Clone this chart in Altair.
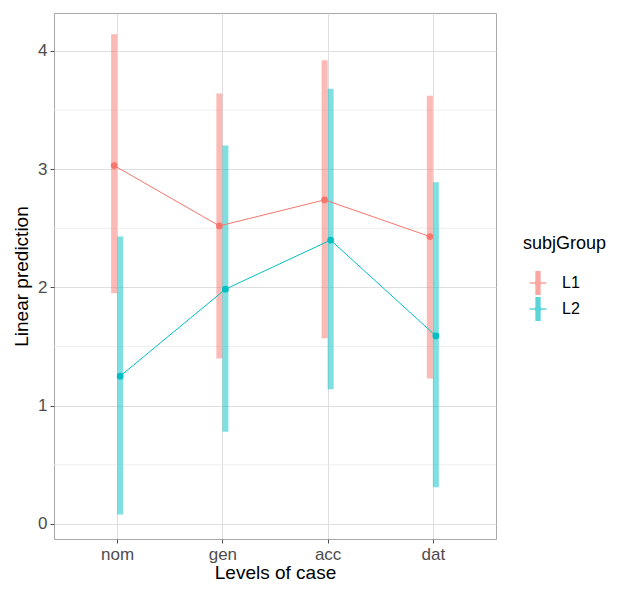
import altair as alt
import pandas as pd

cases = ["nom", "gen", "acc", "dat"]
groups = ["L1", "L2"]
pred_L1 = [3.03, 2.52, 2.74, 2.43]
lo_L1 = [1.95, 1.40, 1.57, 1.23]
hi_L1 = [4.14, 3.64, 3.92, 3.62]
pred_L2 = [1.25, 1.985, 2.40, 1.59]
lo_L2 = [0.08, 0.78, 1.14, 0.31]
hi_L2 = [2.43, 3.20, 3.68, 2.89]
y_breaks = [0, 1, 2, 3, 4]
minor_breaks = [0.5, 1.5, 2.5, 3.5]
colors = ["#F8766D", "#00BFC4"]

rows = []
for g, p, lo, hi in [("L1", pred_L1, lo_L1, hi_L1), ("L2", pred_L2, lo_L2, hi_L2)]:
    for c, pv, l, h in zip(cases, p, lo, hi):
        rows.append({"case": c, "subjGroup": g, "pred": pv, "lo": l, "hi": h})
df = pd.DataFrame(rows)
minor_df = pd.DataFrame({"y": minor_breaks})

FONT = "Liberation Sans"
W, H = 442, 526

xenc = alt.X("case:N", sort=cases, scale=alt.Scale(type="point", padding=0.6),
             axis=alt.Axis(title="Levels of case", labelAngle=0, grid=True))
yscale = alt.Scale(domain=[-0.127, 4.32], nice=False, zero=False)
color = alt.Color("subjGroup:N", scale=alt.Scale(domain=groups, range=colors),
                  legend=alt.Legend(title="subjGroup"))

minor = alt.Chart(minor_df).mark_rule(color="#ebebeb", strokeWidth=0.8).encode(
    y=alt.Y("y:Q", scale=yscale))

offsets = {"L1": -3, "L2": 3}
rules, lines, points = [], [], []
for g in groups:
    base = alt.Chart(df).transform_filter(alt.datum.subjGroup == g)
    o = offsets[g]
    rules.append(base.mark_rule(strokeWidth=6, opacity=0.5, xOffset=o).encode(
        x=xenc, y=alt.Y("lo:Q", scale=yscale), y2="hi:Q", color=color))
    lines.append(base.mark_line(strokeWidth=1, xOffset=o).encode(
        x=xenc, y=alt.Y("pred:Q", scale=yscale), color=color))
    points.append(base.mark_circle(size=45, opacity=1, xOffset=o).encode(
        x=xenc, y=alt.Y("pred:Q", scale=yscale,
                        axis=alt.Axis(title="Linear prediction", values=y_breaks,
                                      format="d")),
        color=color))

legend_path = ("M-0.22,-1H0.22V1H-0.22Z M-0.7,-0.06H0.7V0.06H-0.7Z "
               "M0.28,0A0.28,0.28 0 1,1 -0.28,0A0.28,0.28 0 1,1 0.28,0Z")

chart = alt.layer(minor, *rules, *lines, *points).properties(
    width=W, height=H,
    autosize=alt.AutoSizeParams(type="none"),
    padding={"left": 46, "top": 5, "right": 113, "bottom": 43},
).configure_view(
    stroke="#a8a8a8", strokeWidth=1
).configure_axis(
    labelFont=FONT, titleFont=FONT, labelFontSize=17, labelColor="#4d4d4d",
    titleFontSize=19, titleColor="#000000", titleFontWeight="normal",
    gridColor="#dedede", gridWidth=1, domain=False,
    tickColor="#4d4d4d", tickSize=4, labelPadding=3,
).configure_axisY(
    titlePadding=6,
).configure_axisX(
    titlePadding=1,
).configure_legend(
    orient="none", legendX=469, legendY=222,
    titleFont=FONT, titleFontSize=18, titleFontWeight="normal", titleColor="#000000",
    labelFont=FONT, labelFontSize=16, labelColor="#000000",
    symbolType=legend_path, symbolSize=576, symbolOpacity=0.65, symbolStrokeWidth=0,
    symbolOffset=3, rowPadding=2, titlePadding=18, labelOffset=12,
)

chart.save("out.html", embed_options={"renderer": "svg", "actions": False})
